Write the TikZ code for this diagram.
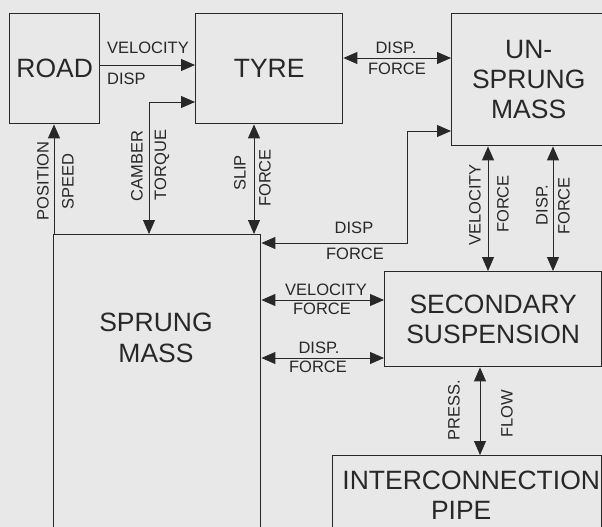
\documentclass[tikz,border=0pt]{standalone}
\usepackage{fontspec}
\setmainfont{Liberation Sans}
\usetikzlibrary{arrows.meta}
\definecolor{bg}{RGB}{232,232,232}
\definecolor{ink}{RGB}{40,40,40}
\begin{document}
\begin{tikzpicture}[x=1pt,y=-1pt,
  box/.style={draw=ink, line width=1.4pt, rectangle, inner sep=0pt, anchor=north west,
    align=center, font=\fontsize{26.5}{30}\selectfont, text=ink},
  bigtext/.style={align=center, font=\fontsize{26.5}{31}\selectfont, text=ink, inner sep=0pt},
  lbl/.style={font=\fontsize{16.5}{19}\selectfont, text=ink, inner sep=0pt},
  conn/.style={draw=ink, line width=0.9pt},
  >={Triangle[length=14pt,width=12pt]}]
\fill[bg] (0,0) rectangle (602,527);
\clip (0,0) rectangle (602,527);

% boxes
\node[box, minimum width=90pt, minimum height=110pt] (road) at (9,13) {ROAD};
\node[box, minimum width=147pt, minimum height=110pt] (tyre) at (195,13) {TYRE};
\node[box, minimum width=154pt, minimum height=132pt] (unsprung) at (451,13) {UN-\\SPRUNG\\MASS};
\node[box, minimum width=207pt, minimum height=300pt] (sprung) at (53,234) {};
\node[bigtext] (smtext) at (156,338) {SPRUNG\\MASS};
\node[box, minimum width=217pt, minimum height=95pt] (secondary) at (384,271) {SECONDARY\\SUSPENSION};
\node[box, minimum width=269pt, minimum height=80pt] (pipe) at (332,455) {\hspace*{8pt}INTERCONNECTION\\PIPE\hspace*{12pt}};

% helper coordinates
\coordinate (h1) at (0,65);
\coordinate (h2) at (0,58);
\coordinate (h3) at (0,102);
\coordinate (v3) at (149,0);
\coordinate (v4) at (54,0);
\coordinate (v5) at (254,0);
\coordinate (h6) at (0,243);
\coordinate (c6) at (407,131);
\coordinate (v7) at (488,0);
\coordinate (v8) at (553,0);
\coordinate (h9) at (0,300);
\coordinate (h10) at (0,358);
\coordinate (v11) at (480,0);

% connectors
\draw[conn,->] (road.east |- h1) -- (tyre.west |- h1);
\draw[conn,<->] (tyre.east |- h2) -- (unsprung.west |- h2);
\draw[conn,<->] (tyre.west |- h3) -| (v3 |- sprung.north);
\draw[conn,->] (v4 |- sprung.north) -- (v4 |- road.south);
\draw[conn,<->] (v5 |- tyre.south) -- (v5 |- sprung.north);
\draw[conn,<->] (sprung.east |- h6) -| (c6) -- (unsprung.west |- c6);
\draw[conn,<->] (v7 |- unsprung.south) -- (v7 |- secondary.north);
\draw[conn,<->] (v8 |- unsprung.south) -- (v8 |- secondary.north);
\draw[conn,<->] (sprung.east |- h9) -- (secondary.west |- h9);
\draw[conn,<->] (sprung.east |- h10) -- (secondary.west |- h10);
\draw[conn,<->] (v11 |- secondary.south) -- (v11 |- pipe.north);

% labels
\node[lbl, anchor=west] (l1a) at (107,48) {VELOCITY};
\node[lbl, anchor=west] (l1b) at (107,79) {DISP};
\node[lbl] (l2a) at (396,48) {DISP.};
\node[lbl] (l2b) at (397,69) {FORCE};
\node[lbl, rotate=90] (l3a) at (137,166) {CAMBER};
\node[lbl, rotate=90] (l3b) at (162,165) {TORQUE};
\node[lbl, rotate=90] (l4a) at (43,181) {POSITION};
\node[lbl, rotate=90] (l4b) at (68,182) {SPEED};
\node[lbl, rotate=90] (l5a) at (240,173) {SLIP};
\node[lbl, rotate=90] (l5b) at (265,178) {FORCE};
\node[lbl] (l6a) at (354,228) {DISP};
\node[lbl] (l6b) at (355,254) {FORCE};
\node[lbl, rotate=90] (l7a) at (475,205) {VELOCITY};
\node[lbl, rotate=90] (l7b) at (503,204) {FORCE};
\node[lbl, rotate=90] (l8a) at (542,205) {DISP.};
\node[lbl, rotate=90] (l8b) at (564,206) {FORCE};
\node[lbl] (l9a) at (326,290) {VELOCITY};
\node[lbl] (l9b) at (322,309) {FORCE};
\node[lbl] (l10a) at (319,348) {DISP.};
\node[lbl] (l10b) at (318,367) {FORCE};
\node[lbl, rotate=90] (l11a) at (454,410) {PRESS.};
\node[lbl, rotate=90] (l11b) at (507,414) {FLOW};
\end{tikzpicture}
\end{document}
